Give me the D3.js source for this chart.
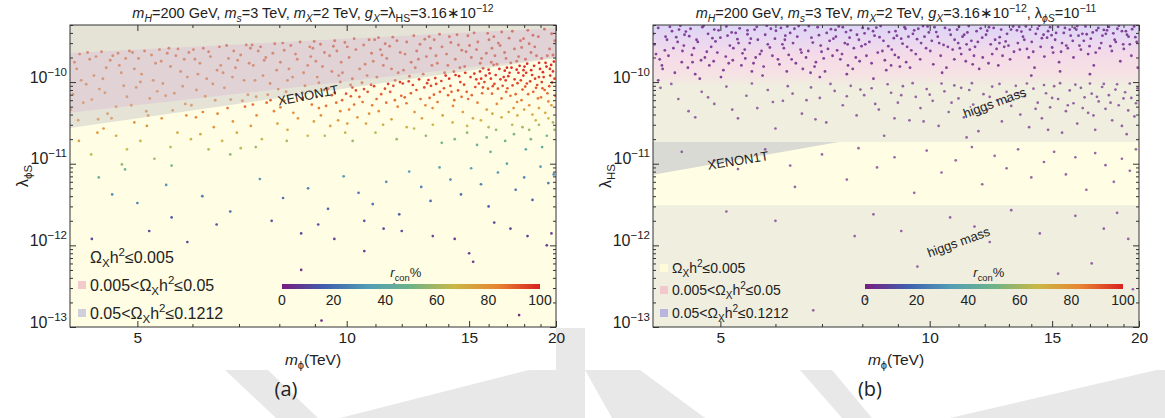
<!DOCTYPE html>
<html>
<head>
<meta charset="utf-8">
<script src="https://cdn.jsdelivr.net/npm/d3@7"></script>
<style>
  body { margin: 0; background: #fff; }
  svg { display: block; font-family: "Liberation Sans", Arial, sans-serif; }
</style>
</head>
<body>
<svg id="fig" width="1165" height="418"></svg>
<script>
// ---------- panel (a): [m_phi (TeV), lambda_phiS, r_con %] ----------
// points inside the XENON1T band (upper pink band)
const bandA = [
  [4.27,1.9e-10,90],[4.04,7.1e-11,86],[4.39,3.5e-11,83],[4.13,2.2e-10,91],[4.33,1.2e-10,88],[4.01,4.6e-11,84],[4.22,9.4e-11,87],[4.36,2.05e-10,90],[4.09,1.45e-10,89],[4.18,5.6e-11,85],[4.41,8.2e-11,86],[4.06,1.75e-10,90],[4.3,6.1e-11,85],[4.15,1.05e-10,87],[4.24,2.3e-10,92],[4.11,3.4e-11,83],
  [4.61,2.1e-10,91],[4.46,1.1e-10,88],[4.83,6.6e-11,86],[4.53,4.1e-11,84],[4.71,1.6e-10,90],[4.44,2.35e-10,92],[4.78,9.0e-11,87],[4.57,1.85e-10,90],[4.87,2.4e-10,92],[4.66,5.0e-11,85],[4.49,7.4e-11,86],[4.74,1.3e-10,88],[4.59,3.6e-11,83],[4.81,1.95e-10,91],[4.51,1.5e-10,89],[4.69,2.25e-10,91],
  [5.07,1.25e-10,88],[4.92,2.3e-10,92],[5.31,1.7e-10,90],[5.15,4.4e-11,84],[4.98,8.6e-11,87],[5.38,2.5e-10,92],[5.21,6.3e-11,86],[5.02,1.95e-10,91],[5.27,1.05e-10,88],[4.9,5.2e-11,85],[5.12,2.4e-10,92],[5.34,7.7e-11,86],[4.95,1.45e-10,89],[5.24,2.15e-10,91],[5.18,3.9e-11,83],[5.05,1.0e-10,88],
  [5.68,2.1e-10,91],[5.44,9.6e-11,88],[5.86,5.4e-11,85],[5.55,2.6e-10,93],[5.77,1.35e-10,89],[5.49,6.8e-11,86],[5.93,2.3e-10,92],[5.62,4.5e-11,84],[5.41,1.8e-10,90],[5.81,8.9e-11,87],[5.58,1.55e-10,90],[5.72,2.55e-10,93],[5.9,1.15e-10,88],[5.52,2.25e-10,92],[5.65,7.3e-11,86],[5.84,1.9e-10,91],
  [6.29,1.1e-10,89],[6.02,2.5e-10,93],[6.47,6.0e-11,86],[6.15,1.7e-10,90],[6.56,2.7e-10,93],[6.08,8.0e-11,87],[6.37,2.05e-10,91],[5.98,5.2e-11,85],[6.22,2.6e-10,93],[6.51,1.4e-10,90],[6.11,1.25e-10,89],[6.42,9.5e-11,88],[6.26,6.7e-11,86],[6.33,2.35e-10,92],[6.05,1.9e-10,91],[6.59,1.6e-10,90],
  [6.88,2.4e-10,93],[6.64,1.3e-10,90],[7.21,7.0e-11,87],[6.97,1.85e-10,91],[6.72,2.8e-10,94],[7.12,1.05e-10,89],[6.81,6.1e-11,86],[7.27,2.6e-10,93],[6.67,8.5e-11,88],[7.04,2.15e-10,92],[6.92,1.5e-10,90],[7.17,2.85e-10,94],[6.76,1.95e-10,91],[7.08,5.9e-11,86],[6.85,1.15e-10,89],[7.24,1.7e-10,91],
  [7.52,2.7e-10,94],[7.34,1.6e-10,91],[7.97,8.2e-11,88],[7.65,2.0e-10,92],[7.41,6.6e-11,87],[7.88,2.95e-10,94],[7.58,1.2e-10,90],[8.03,1.75e-10,92],[7.46,2.4e-10,93],[7.76,9.6e-11,89],[7.31,2.85e-10,94],[7.93,1.4e-10,91],[7.7,7.0e-11,87],[7.38,1.05e-10,89],[7.83,2.25e-10,93],[7.61,1.85e-10,92],
  [8.44,2.2e-10,93],[8.09,3.0e-10,95],[8.71,9.0e-11,90],[8.26,1.45e-10,91],[8.85,2.7e-10,94],[8.18,7.6e-11,88],[8.57,3.1e-10,95],[8.36,1.15e-10,90],[8.79,1.6e-10,92],[8.13,2.45e-10,93],[8.63,7.4e-11,88],[8.49,1.9e-10,92],[8.22,1.05e-10,89],[8.88,2.05e-10,93],[8.31,2.8e-10,94],[8.67,1.3e-10,91],
  [9.23,1.55e-10,92],[8.94,2.6e-10,94],[9.61,3.2e-10,95],[9.12,9.8e-11,90],[9.45,2.1e-10,93],[9.74,1.2e-10,91],[9.03,1.8e-10,92],[9.36,8.4e-11,90],[9.68,2.4e-10,94],[8.98,3.15e-10,95],[9.52,1.35e-10,92],[9.17,2.9e-10,95],[9.79,1.0e-10,91],[9.29,2.3e-10,94],[9.07,1.15e-10,91],[9.57,2.75e-10,95],
  [10.31,2.5e-10,95],[9.86,1.3e-10,92],[10.77,3.3e-10,96],[10.08,2.0e-10,94],[10.52,9.8e-11,92],[9.94,3.05e-10,95],[10.63,1.65e-10,93],[10.19,1.1e-10,92],[10.86,2.25e-10,95],[10.02,2.7e-10,95],[10.44,1.45e-10,93],[9.82,1.75e-10,93],[10.7,1.2e-10,92],[10.25,3.4e-10,96],[10.58,2.85e-10,95],[10.13,9.2e-11,91],
  [11.42,1.95e-10,95],[10.97,3.3e-10,96],[11.86,1.3e-10,94],[11.18,2.5e-10,95],[11.65,3.55e-10,96],[11.05,1.15e-10,93],[11.53,2.75e-10,96],[11.29,1.6e-10,94],[11.94,2.3e-10,95],[11.11,3.5e-10,96],[11.74,1.05e-10,93],[11.36,2.95e-10,96],[10.92,1.8e-10,94],[11.6,1.45e-10,94],[11.24,2.15e-10,95],[11.81,3.2e-10,96],
  [12.61,2.4e-10,96],[12.07,1.4e-10,94],[13.14,3.6e-10,97],[12.38,1.75e-10,95],[12.88,1.25e-10,94],[12.2,3.1e-10,96],[13.02,2.05e-10,96],[12.49,3.7e-10,97],[13.26,1.6e-10,95],[12.13,2.2e-10,95],[12.75,2.9e-10,96],[12.31,1.18e-10,94],[12.95,3.35e-10,97],[12.55,1.5e-10,95],[13.2,2.6e-10,96],[12.68,1.9e-10,95],
  [13.92,2.2e-10,96],[13.36,3.3e-10,97],[14.55,1.5e-10,96],[13.71,2.7e-10,97],[14.26,1.35e-10,95],[13.5,1.7e-10,95],[14.41,3.8e-10,97],[13.83,1.3e-10,95],[14.64,2.45e-10,97],[13.44,2.1e-10,96],[14.12,3.05e-10,97],[13.6,3.85e-10,97],[14.33,1.9e-10,96],[13.98,1.6e-10,96],[14.48,2.85e-10,97],[14.05,3.6e-10,97],
  [15.37,2.5e-10,97],[14.78,1.55e-10,96],[16.02,3.3e-10,98],[15.11,2.0e-10,96],[15.71,1.48e-10,96],[14.94,3.7e-10,98],[15.88,2.25e-10,97],[15.25,4.0e-10,98],[16.14,1.75e-10,97],[15.02,2.8e-10,97],[15.56,1.7e-10,96],[14.85,2.35e-10,97],[15.95,3.95e-10,98],[15.44,3.1e-10,97],[16.18,2.6e-10,97],[15.63,1.95e-10,96],
  [16.87,2.3e-10,97],[16.28,3.6e-10,98],[17.56,1.8e-10,97],[16.62,2.8e-10,97],[17.31,4.2e-10,98],[16.45,1.65e-10,96],[17.78,3.2e-10,98],[16.95,1.95e-10,97],[17.43,2.55e-10,97],[16.34,2.1e-10,97],[17.12,3.45e-10,98],[17.67,2.05e-10,97],[16.71,4.1e-10,98],[17.22,1.72e-10,97],[16.52,3.0e-10,98],[17.85,2.65e-10,98],
  [18.64,2.7e-10,98],[17.96,3.4e-10,98],[19.43,2.1e-10,98],[18.22,4.3e-10,99],[19.07,1.95e-10,98],[18.41,2.3e-10,98],[19.71,3.9e-10,99],[18.08,1.9e-10,98],[18.86,3.6e-10,98],[19.58,2.55e-10,98],[18.3,2.95e-10,98],[19.25,4.45e-10,99],[18.75,2.1e-10,98],[19.92,3.2e-10,99],[18.53,3.75e-10,99],[19.8,2.15e-10,98]
];
// points just below the XENON1T line (orange / red)
const belowA = [
  [4.12,1.9e-11,76],[4.47,2.7e-11,80],[4.83,1.5e-11,66],[4.29,1.3e-11,64],[5.16,2.9e-11,79],[4.66,2.2e-11,74],[5.42,3.6e-11,82],[5.05,1.9e-11,70],
  [5.71,2.4e-11,72],[5.29,1.15e-11,58],[5.88,3.9e-11,83],[4.95,3.2e-11,81],[5.58,1.6e-11,64],[4.38,2.4e-11,78],[5.97,2.0e-11,68],[4.75,9.8e-12,56],
  [6.07,3.7e-11,84],[6.44,2.8e-11,78],[6.21,4.3e-11,86],[6.86,3.3e-11,80],[6.62,1.9e-11,70],[7.14,5.0e-11,88],[6.33,1.5e-11,62],[7.42,3.9e-11,83],
  [6.95,2.4e-11,74],[7.67,5.6e-11,89],[7.28,2.9e-11,78],[6.74,4.8e-11,87],[7.86,4.4e-11,84],[7.55,2.0e-11,68],[8.13,5.9e-11,89],[7.04,1.55e-11,63],
  [8.38,4.2e-11,83],[7.95,3.1e-11,77],[8.64,6.4e-11,90],[8.22,2.6e-11,72],[8.91,5.3e-11,87],[8.51,3.6e-11,80],[7.77,6.0e-11,90],[8.79,2.2e-11,68],
  [6.52,4.1e-11,85],[8.03,4.9e-11,86],[7.33,5.3e-11,88],[8.45,7.0e-11,92],[8.97,3.3e-11,76],[6.16,2.3e-11,73],
  [9.06,6.6e-11,92],[9.34,5.1e-11,87],[9.18,3.9e-11,82],[9.61,7.4e-11,93],[9.47,2.9e-11,76],[9.85,6.0e-11,90],[9.27,8.0e-11,95],[10.08,4.6e-11,84],
  [9.72,3.4e-11,79],[10.31,7.9e-11,94],[9.95,2.4e-11,70],[10.54,5.7e-11,88],[10.19,8.6e-11,95],[10.77,4.1e-11,81],[10.43,6.6e-11,91],[10.95,8.9e-11,95],
  [10.66,3.1e-11,75],[11.21,7.1e-11,91],[10.88,5.2e-11,86],[11.47,9.5e-11,96],[11.12,4.4e-11,82],[11.73,6.0e-11,88],[11.35,8.3e-11,94],[11.93,1.0e-10,97],
  [11.6,3.5e-11,77],[9.52,6.9e-11,93],[9.79,4.4e-11,84],[10.14,6.7e-11,92],[10.36,3.7e-11,80],[10.72,7.6e-11,93],[11.04,6.2e-11,89],[11.28,3.0e-11,72],
  [11.55,7.6e-11,92],[11.84,5.0e-11,85],[9.12,4.8e-11,86],[9.41,8.3e-11,96],[10.25,5.3e-11,87],[10.84,9.3e-11,96],[11.67,9.0e-11,95],[9.98,7.2e-11,93],
  [11.4,5.6e-11,88],[10.59,8.2e-11,94],[9.66,5.6e-11,89],[11.98,6.8e-11,90],[10.02,3.1e-11,76],
  [12.04,9.6e-11,97],[12.37,7.3e-11,92],[12.19,5.5e-11,87],[12.71,1.08e-10,98],[12.52,4.3e-11,82],[12.93,8.6e-11,94],[12.28,1.02e-10,97],[13.16,6.4e-11,89],
  [12.83,3.6e-11,77],[13.41,1.12e-10,98],[13.05,9.7e-11,96],[13.62,7.6e-11,92],[13.29,4.8e-11,83],[13.88,1.2e-10,99],[13.51,5.7e-11,87],[14.1,9.0e-11,94],
  [13.74,3.9e-11,78],[14.34,1.22e-10,99],[13.99,6.9e-11,90],[14.57,1.0e-10,96],[14.22,5.1e-11,84],[14.81,1.3e-10,99],[14.46,7.9e-11,92],[15.07,1.15e-10,98],
  [14.69,4.3e-11,79],[15.31,8.7e-11,94],[14.95,6.2e-11,88],[15.55,1.35e-10,99],[15.19,3.6e-11,74],[15.78,1.0e-10,96],[15.42,5.6e-11,85],[16.0,1.42e-10,100],
  [15.66,7.3e-11,90],[15.9,4.6e-11,80],[12.6,8.0e-11,93],[12.12,6.5e-11,90],[13.22,9.0e-11,95],[12.45,9.2e-11,96],[13.68,1.03e-10,97],[13.35,7.0e-11,91],
  [14.04,1.1e-10,98],[14.28,6.0e-11,87],[14.75,9.3e-11,95],[14.51,1.18e-10,99],[15.13,6.9e-11,89],[15.26,1.27e-10,99],[15.49,9.6e-11,95],[15.85,1.2e-10,98],
  [15.61,1.1e-10,97],[15.97,8.3e-11,92],[13.8,8.4e-11,93],[14.15,7.6e-11,91],[12.98,5.2e-11,85],[14.88,7.6e-11,91],[15.36,1.08e-10,97],[13.11,1.06e-10,98],
  [12.77,6.2e-11,88],[14.63,6.6e-11,89],[15.7,8.6e-11,93],[13.45,9.5e-11,96],
  [16.05,1.28e-10,99],[16.31,9.5e-11,95],[16.18,7.2e-11,90],[16.58,1.45e-10,100],[16.44,5.4e-11,84],[16.82,1.15e-10,98],[16.27,1.62e-10,100],[17.03,8.4e-11,92],
  [16.7,6.3e-11,87],[17.26,1.5e-10,100],[16.93,1.05e-10,97],[17.5,7.1e-11,89],[17.15,1.3e-10,99],[17.73,1.58e-10,100],[17.38,4.8e-11,81],[17.95,1.2e-10,98],
  [17.61,9.7e-11,95],[18.18,1.68e-10,100],[17.84,6.0e-11,86],[18.42,1.4e-10,99],[18.06,8.8e-11,93],[18.66,1.1e-10,97],[18.3,5.2e-11,82],[18.91,1.72e-10,100],
  [18.55,7.6e-11,90],[19.15,1.32e-10,99],[18.79,9.2e-11,94],[19.38,1.55e-10,100],[19.03,6.5e-11,87],[19.62,1.2e-10,98],[19.26,8.0e-11,91],[19.86,1.78e-10,100],
  [19.5,5.8e-11,84],[19.74,9.9e-11,95],[19.95,6.8e-11,88],[16.12,1.1e-10,97],[16.5,8.3e-11,93],[16.88,1.38e-10,99],[17.2,6.8e-11,88],[17.44,1.08e-10,97],
  [17.66,1.3e-10,99],[17.9,8.1e-11,92],[18.12,1.3e-10,99],[18.36,1.02e-10,96],[18.6,1.58e-10,100],[18.84,6.3e-11,86],[19.08,1.0e-10,96],[19.32,1.72e-10,100],
  [19.56,8.9e-11,93],[19.8,1.35e-10,99],[16.38,1.22e-10,98],[16.76,9.0e-11,94],[17.08,1.18e-10,98],[17.32,9.1e-11,94],[17.56,1.42e-10,100],[17.8,1.05e-10,96],
  [18.02,1.55e-10,100],[18.24,7.1e-11,89],[18.48,1.22e-10,98],[18.72,8.5e-11,92],[18.97,1.45e-10,99],[19.2,1.15e-10,97],[19.44,7.3e-11,89],[19.68,1.62e-10,100],
  [19.9,1.1e-10,96],[16.64,1.08e-10,97],[17.0,1.5e-10,100],[17.96,1.4e-10,99],[18.9,1.15e-10,97],[19.6,1.45e-10,99],[16.22,8.9e-11,94],[18.16,9.6e-11,95],
  [19.12,8.4e-11,92],[17.58,5.7e-11,85],[16.96,7.6e-11,90]
];
// yellow / green / teal points
const midA = [
  [14.2,3.2e-11,70],[14.9,2.9e-11,66],[15.6,3.4e-11,70],[16.2,4.1e-11,74],[16.7,3.7e-11,71],[17.1,4.3e-11,75],[17.6,3.9e-11,72],[18.0,4.6e-11,76],
  [18.5,4.0e-11,72],[18.9,4.8e-11,77],[19.3,4.2e-11,73],[19.7,5.2e-11,78],[16.0,2.8e-11,62],[17.3,3.0e-11,63],[18.7,3.4e-11,66],[19.5,3.6e-11,67],
  [13.3,3.0e-11,70],[12.2,2.8e-11,70],[19.9,2.6e-11,58],[18.3,2.6e-11,58],
  [9.3,2.2e-11,62],[10.2,1.9e-11,58],[11.0,2.4e-11,64],[11.8,2.0e-11,58],[12.5,2.7e-11,64],[13.0,2.2e-11,56],[13.7,1.8e-11,50],
  [14.3,2.0e-11,52],[14.9,2.4e-11,55],[15.4,1.7e-11,46],[15.9,2.1e-11,52],[16.4,2.6e-11,56],[16.9,1.9e-11,48],[17.4,2.3e-11,52],
  [17.9,2.8e-11,58],[18.4,2.0e-11,48],[18.9,3.0e-11,58],[19.4,2.2e-11,50],[19.8,3.2e-11,60],[16.1,1.4e-11,42],[18.1,1.5e-11,40],
  [19.1,1.6e-11,40],[8.2,1.9e-11,60],[7.4,1.6e-11,58],[6.8,1.3e-11,55],[5.6,9.5e-12,50],[4.8,8.5e-12,48],[4.4,6.8e-12,45]
];
// blue points
const blueA = [
  [4.6,4.2e-12,28],[5.0,3.3e-12,25],[5.5,5.5e-12,30],[6.2,4.0e-12,22],[6.8,2.6e-12,18],[7.5,6.5e-12,30],[8.1,3.8e-12,20],
  [8.8,5.0e-12,26],[9.4,2.8e-12,16],[9.9,7.0e-12,32],[10.4,4.4e-12,22],[10.9,3.2e-12,18],[11.4,6.0e-12,28],[11.9,2.4e-12,14],
  [12.3,8.0e-12,34],[12.8,5.2e-12,24],[13.2,3.5e-12,18],[13.6,9.0e-12,36],[14.1,6.4e-12,28],[14.6,4.2e-12,20],[15.1,8.8e-12,34],
  [15.6,5.6e-12,24],[16.0,3.0e-12,14],[16.5,7.8e-12,30],[17.0,1e-11,36],[17.5,4.8e-12,20],[18.0,6.8e-12,26],[18.5,3.6e-12,16],
  [19.0,9.2e-12,32],[19.5,5.8e-12,22],[19.85,7.4e-12,26]
];
// sparse points near the bottom
const lowA = [
  [5.2,1.5e-12,10],[5.9,1.1e-12,8],[6.5,1.8e-12,12],[7.8,2.0e-12,12],[8.6,1.4e-12,9],[9.1,1.8e-12,10],[9.6,1.2e-12,7],
  [10.6,2.0e-12,12],[10.6,8.5e-13,6],[11.3,1.6e-12,9],[12.0,1.5e-12,8],[13.3,1.3e-12,7],[14.3,1.2e-12,6],[15.0,8.0e-13,5],
  [15.2,6.3e-13,4],[16.3,1.9e-12,10],[17.2,1.6e-12,8],[18.2,1.3e-12,6],[19.4,1.0e-12,5],[19.7,1.4e-12,7],[8.6,5.0e-13,3],
  [9.2,1.2e-13,2],[11.7,3.3e-13,3],[17.7,1.4e-13,2],[4.3,1.2e-12,8],[5.6,2.2e-12,14]
];

// ---------- panel (b): [m_phi (TeV), lambda_HS] ----------
const bandB = [
  [4.02,2.9e-10],[4.07,4.6e-10],[4.12,1.6e-10],[4.17,3.6e-10],[4.21,2.1e-10],[4.26,4.2e-10],[4.3,1.3e-10],[4.34,3.1e-10],[4.38,4.9e-10],[4.41,2.4e-10],[4.09,1.9e-10],
  [4.44,3.8e-10],[4.49,1.5e-10],[4.53,4.5e-10],[4.58,2.6e-10],[4.62,3.3e-10],[4.67,1.1e-10],[4.71,4.7e-10],[4.75,2.0e-10],[4.8,3.9e-10],[4.85,2.7e-10],[4.56,1.75e-10],
  [4.9,4.4e-10],[4.95,2.3e-10],[5.0,3.5e-10],[5.05,1.4e-10],[5.1,4.8e-10],[5.16,2.8e-10],[5.21,1.85e-10],[5.26,4.0e-10],[5.31,3.0e-10],[5.36,1.6e-10],[5.12,3.7e-10],
  [5.42,2.5e-10],[5.47,4.3e-10],[5.53,3.4e-10],[5.58,1.7e-10],[5.64,4.75e-10],[5.7,2.2e-10],[5.75,1.2e-10],[5.8,3.8e-10],[5.85,2.9e-10],[5.91,4.5e-10],[5.62,2.0e-10],
  [5.99,3.4e-10],[6.05,1.9e-10],[6.11,4.6e-10],[6.17,2.6e-10],[6.23,1.35e-10],[6.3,4.0e-10],[6.36,3.0e-10],[6.42,1.7e-10],[6.48,4.85e-10],[6.54,2.3e-10],[6.2,3.7e-10],
  [6.62,4.3e-10],[6.69,2.4e-10],[6.76,3.5e-10],[6.83,1.55e-10],[6.9,4.7e-10],[6.97,2.8e-10],[7.04,1.95e-10],[7.11,4.0e-10],[7.18,3.2e-10],[7.25,2.1e-10],[6.95,1.15e-10],
  [7.33,3.6e-10],[7.4,4.8e-10],[7.48,2.2e-10],[7.55,3.0e-10],[7.63,1.6e-10],[7.7,4.3e-10],[7.78,2.6e-10],[7.86,3.8e-10],[7.93,1.8e-10],[8.01,4.6e-10],[7.6,1.25e-10],
  [8.08,2.9e-10],[8.16,4.5e-10],[8.25,1.7e-10],[8.33,3.7e-10],[8.42,2.3e-10],[8.5,4.85e-10],[8.58,3.2e-10],[8.66,1.4e-10],[8.74,4.1e-10],[8.82,2.5e-10],[8.3,1.1e-10],
  [8.93,4.2e-10],[9.02,2.0e-10],[9.1,3.4e-10],[9.2,4.7e-10],[9.28,2.7e-10],[9.37,1.5e-10],[9.46,3.9e-10],[9.55,2.2e-10],[9.63,4.5e-10],[9.72,3.0e-10],[9.25,1.75e-10],
  [9.83,3.6e-10],[9.93,4.8e-10],[10.02,2.4e-10],[10.12,1.65e-10],[10.22,4.1e-10],[10.32,3.0e-10],[10.42,1.3e-10],[10.52,4.6e-10],[10.62,2.7e-10],[10.72,3.8e-10],[10.85,1.9e-10],
  [10.95,4.4e-10],[11.05,2.6e-10],[11.15,3.6e-10],[11.27,1.8e-10],[11.38,4.85e-10],[11.48,3.2e-10],[11.58,2.1e-10],[11.68,4.2e-10],[11.78,1.45e-10],[11.9,3.5e-10],[11.3,2.9e-10],
  [12.05,3.8e-10],[12.17,4.7e-10],[12.3,2.2e-10],[12.42,3.3e-10],[12.55,1.6e-10],[12.67,4.4e-10],[12.8,2.7e-10],[12.92,3.9e-10],[13.05,1.9e-10],[13.18,4.8e-10],[12.6,3.0e-10],
  [13.35,4.3e-10],[13.48,2.5e-10],[13.62,3.6e-10],[13.75,4.8e-10],[13.88,2.0e-10],[14.02,3.1e-10],[14.15,1.5e-10],[14.3,4.5e-10],[14.44,2.7e-10],[14.58,3.8e-10],[14.0,1.2e-10],
  [14.75,3.5e-10],[14.9,4.7e-10],[15.05,2.3e-10],[15.2,4.0e-10],[15.35,1.75e-10],[15.5,3.0e-10],[15.65,4.6e-10],[15.8,2.6e-10],[15.95,3.7e-10],[16.1,2.0e-10],[15.4,1.35e-10],
  [16.25,4.4e-10],[16.42,2.8e-10],[16.58,3.9e-10],[16.75,4.8e-10],[16.9,2.2e-10],[17.05,3.4e-10],[17.22,1.6e-10],[17.38,4.3e-10],[17.55,2.6e-10],[17.72,3.7e-10],[17.0,1.25e-10],
  [17.92,3.9e-10],[18.1,4.75e-10],[18.28,2.4e-10],[18.45,3.3e-10],[18.62,4.5e-10],[18.8,1.8e-10],[18.98,2.9e-10],[19.15,4.2e-10],[19.32,3.6e-10],[19.5,2.1e-10],[19.68,4.8e-10],[19.85,3.1e-10],[19.92,1.5e-10]
];
const bandB2 = [
  [4.19,3.3e-10],[4.04,2.2e-10],[4.36,4.4e-10],[4.13,1.45e-10],[4.28,2.6e-10],[4.0,3.9e-10],[4.4,1.75e-10],[4.23,4.75e-10],[4.07,1.05e-10],[4.32,3.55e-10],[4.16,2.45e-10],
  [4.64,3.1e-10],[4.46,4.15e-10],[4.82,1.6e-10],[4.55,2.15e-10],[4.73,4.9e-10],[4.43,2.8e-10],[4.87,3.45e-10],[4.6,1.25e-10],[4.78,2.35e-10],[4.51,3.65e-10],[4.69,1.85e-10],
  [5.09,2.05e-10],[4.92,3.15e-10],[5.33,4.55e-10],[5.01,1.15e-10],[5.22,2.6e-10],[4.97,4.3e-10],[5.38,2.25e-10],[5.14,1.7e-10],[5.29,3.35e-10],[4.89,1.8e-10],[5.19,4.05e-10],
  [5.51,3.0e-10],[5.43,1.95e-10],[5.89,2.65e-10],[5.6,4.4e-10],[5.77,1.55e-10],[5.47,3.85e-10],[5.94,2.1e-10],[5.66,3.3e-10],[5.83,4.9e-10],[5.55,1.35e-10],[5.73,2.4e-10],
  [6.27,2.15e-10],[6.01,4.25e-10],[6.45,3.6e-10],[6.14,2.9e-10],[6.57,1.45e-10],[6.08,1.65e-10],[6.39,4.5e-10],[6.19,3.3e-10],[6.52,2.5e-10],[6.33,1.9e-10],[6.24,4.8e-10],
  [6.93,3.75e-10],[6.64,2.0e-10],[7.21,4.45e-10],[6.79,3.05e-10],[7.07,1.35e-10],[6.7,4.85e-10],[7.14,2.55e-10],[6.86,1.75e-10],[7.27,3.4e-10],[6.99,2.35e-10],[6.74,1.3e-10],
  [7.58,4.1e-10],[7.36,2.45e-10],[7.91,3.3e-10],[7.44,1.9e-10],[7.83,2.0e-10],[7.5,4.7e-10],[7.98,2.75e-10],[7.67,3.5e-10],[7.32,4.35e-10],[7.75,1.45e-10],[7.62,2.9e-10],
  [8.47,3.55e-10],[8.11,2.1e-10],[8.72,2.75e-10],[8.29,4.2e-10],[8.88,3.45e-10],[8.19,3.1e-10],[8.62,1.85e-10],[8.38,4.65e-10],[8.8,1.6e-10],[8.06,3.95e-10],[8.55,2.4e-10],
  [9.41,2.45e-10],[8.97,3.7e-10],[9.69,1.9e-10],[9.14,2.95e-10],[9.5,4.3e-10],[9.06,1.55e-10],[9.78,4.85e-10],[9.32,3.6e-10],[9.59,3.35e-10],[9.23,4.5e-10],[8.91,2.15e-10],
  [10.37,2.1e-10],[9.88,2.6e-10],[10.68,4.35e-10],[10.07,3.2e-10],[10.57,1.5e-10],[9.97,4.05e-10],[10.79,2.5e-10],[10.27,3.6e-10],[10.47,2.85e-10],[10.16,4.7e-10],[10.86,3.3e-10],
  [11.33,4.05e-10],[10.99,3.0e-10],[11.62,2.7e-10],[11.1,2.2e-10],[11.84,4.55e-10],[11.21,3.8e-10],[11.53,1.65e-10],[11.42,2.5e-10],[11.73,3.1e-10],[11.92,2.0e-10],[11.02,4.75e-10],
  [12.48,2.55e-10],[12.1,4.25e-10],[12.86,3.15e-10],[12.24,2.9e-10],[13.09,4.4e-10],[12.36,4.6e-10],[12.73,2.1e-10],[12.61,3.55e-10],[13.22,2.35e-10],[12.98,2.8e-10],[12.15,1.7e-10],
  [13.55,4.15e-10],[13.39,3.0e-10],[14.09,2.35e-10],[13.68,3.3e-10],[14.37,4.9e-10],[13.8,2.55e-10],[14.5,3.45e-10],[13.94,4.4e-10],[14.21,3.9e-10],[14.62,2.05e-10],[13.45,4.75e-10],
  [15.15,3.3e-10],[14.8,4.2e-10],[15.72,2.8e-10],[15.0,2.65e-10],[15.9,4.4e-10],[15.3,4.75e-10],[16.06,3.2e-10],[15.45,2.35e-10],[15.59,4.0e-10],[14.97,3.75e-10],[16.16,4.6e-10],
  [16.66,3.2e-10],[16.3,4.85e-10],[17.48,4.6e-10],[16.5,2.5e-10],[17.65,3.0e-10],[16.82,3.85e-10],[17.16,4.05e-10],[16.98,2.75e-10],[17.33,2.3e-10],[17.8,4.35e-10],[16.37,3.7e-10],
  [18.52,3.1e-10],[17.99,4.3e-10],[19.22,3.8e-10],[18.19,2.75e-10],[19.55,4.45e-10],[18.71,4.9e-10],[19.02,2.55e-10],[18.37,3.95e-10],[19.4,2.9e-10],[19.76,3.55e-10],[18.9,4.2e-10]
];
const midB = [
  [4.1,8.5e-11],[4.35,6.2e-11],[4.5,4.4e-11],[4.7,7.6e-11],[4.9,5.4e-11],[5.1,8.8e-11],[5.3,3.6e-11],[5.45,6.8e-11],[5.65,4.8e-11],[5.85,8.0e-11],
  [6.0,2.7e-11],[6.15,5.9e-11],[6.35,7.2e-11],[6.55,4.1e-11],[6.75,8.6e-11],[6.95,6.4e-11],[7.1,3.2e-11],[7.3,7.8e-11],[7.5,5.2e-11],[7.7,9.0e-11],
  [7.85,3.9e-11],[8.05,6.9e-11],[8.25,8.4e-11],[8.45,4.6e-11],[8.6,2.2e-11],[8.8,7.4e-11],[9.0,5.6e-11],[9.15,8.9e-11],[9.35,3.4e-11],[9.55,6.6e-11],
  [9.7,4.8e-11],[9.9,8.2e-11],[10.1,5.9e-11],[10.3,2.9e-11],[10.5,7.7e-11],[10.65,4.3e-11],[10.85,9.1e-11],[11.0,6.3e-11],[11.2,3.7e-11],[11.4,8.0e-11],
  [11.55,5.3e-11],[11.75,2.5e-11],[11.95,7.1e-11],[12.1,4.6e-11],[12.3,8.8e-11],[12.5,6.0e-11],[12.7,3.3e-11],[12.9,7.6e-11],[13.1,5.1e-11],[13.3,9.0e-11],
  [13.5,4.0e-11],[13.7,6.7e-11],[13.9,2.8e-11],[14.1,8.3e-11],[14.3,5.6e-11],[14.5,3.6e-11],[14.7,7.3e-11],[14.9,4.9e-11],[15.1,8.9e-11],[15.3,6.2e-11],
  [15.5,2.4e-11],[15.7,4.4e-11],[15.9,7.9e-11],[16.1,5.5e-11],[16.3,3.1e-11],[16.5,8.5e-11],[16.7,6.5e-11],[16.9,4.2e-11],[17.1,7.2e-11],[17.3,2.6e-11],
  [17.5,5.8e-11],[17.7,8.7e-11],[17.9,4.7e-11],[18.1,6.9e-11],[18.3,3.4e-11],[18.5,8.1e-11],[18.7,5.2e-11],[18.9,2.9e-11],[19.1,7.5e-11],[19.3,4.5e-11],
  [19.5,6.4e-11],[19.7,3.8e-11],[19.9,8.4e-11],
  [4.25,9.5e-11],[4.6,3.7e-11],[4.8,6.5e-11],[5.2,4.6e-11],[5.55,9.6e-11],[5.95,5.7e-11],[6.25,8.9e-11],[6.65,6.0e-11],[6.85,3.5e-11],[7.2,9.5e-11],
  [7.6,6.7e-11],[7.95,8.1e-11],[8.35,5.4e-11],[8.7,9.4e-11],[9.1,6.9e-11],[9.45,9.7e-11],[9.8,3.3e-11],[10.0,7.0e-11],[10.4,9.6e-11],[10.75,5.6e-11],
  [11.1,8.5e-11],[11.5,9.7e-11],[11.85,4.1e-11],[12.2,6.6e-11],[12.6,9.5e-11],[12.95,5.8e-11],[13.4,7.3e-11],[13.8,9.6e-11],[14.2,4.7e-11],[14.6,9.2e-11],
  [15.0,6.4e-11],[15.4,9.7e-11],[15.8,5.2e-11],[16.2,9.3e-11],[16.6,4.8e-11],[17.0,9.6e-11],[17.4,6.6e-11],[17.8,9.5e-11],[18.2,5.6e-11],[18.6,9.4e-11],
  [19.0,6.3e-11],[19.4,9.6e-11],[19.8,5.5e-11],[11.3,2.1e-11],[14.8,2.6e-11],[17.2,3.9e-11],[19.2,2.3e-11],[8.9,3.6e-11]
];
const yellowB = [
  [4.4,1.4e-11],[4.9,1.1e-11],[5.3,8.6e-12],[5.8,1.5e-11],[6.3,9.5e-12],[6.4,5.2e-12],[7.0,1.3e-11],[7.6,6.4e-12],[7.9,1.55e-11],[8.4,9.0e-12],
  [8.9,1.2e-11],[9.5,4.4e-12],[9.9,1.45e-11],[10.4,7.8e-12],[10.9,1.1e-11],[11.5,1.6e-11],[11.9,5.6e-12],[12.4,1.25e-11],[12.9,8.8e-12],[13.4,1.5e-11],
  [14.0,6.8e-12],[14.6,1.05e-11],[15.1,1.4e-11],[15.7,7.4e-12],[16.2,1.2e-11],[16.8,4.8e-12],[17.3,1.35e-11],[17.9,9.6e-12],[18.4,6.0e-12],[18.9,1.15e-11],
  [19.4,8.2e-12],[19.8,1.5e-11]
];
const lowB = [
  [5.1,2.6e-12],[6.0,2.0e-12],[7.8,1.3e-12],[8.3,2.4e-12],[9.1,1.5e-12],[9.6,5.5e-13],[10.7,2.2e-12],[11.6,1.7e-12],[12.2,1.1e-12],[13.1,2.7e-12],
  [14.4,1.4e-12],[15.3,4.5e-13],[16.2,2.3e-12],[17.1,6.0e-13],[17.8,1.6e-12],[18.6,2.5e-12],[19.3,1.2e-12],[19.6,2.9e-13],[6.8,1.6e-13],[8.1,2.2e-13]
];
const rconB = 3; // all panel (b) points sit near r_con ~ 0-5 %

// ---------- regions, axes, legends ----------
const xenonLineA = [[4, 2.74e-11], [20, 1.97e-10]];
const topLineA = [[4, 2.27e-10], [20, 4.6e-10]];
const pinkLowA = [[4, 4.2e-11], [20, 2.0e-10]];
const pinkTopB = 9e-11;
const higgsUpB = [1.85e-11, 5e-10];
const higgsLowB = [1e-13, 3.1e-12];
const xenonB = [[4, 1.85e-11], [7.4, 1.85e-11], [4, 7.3e-12]];

const xDomain = [4, 20];
const yDomain = [1e-13, 5e-10];
const xTicks = [5, 10, 15, 20];
const xMinor = [6, 7, 8, 9, 11, 12, 13, 14, 16, 17, 18, 19];
const yExps = [-13, -12, -11, -10];
const rconTicks = [0, 20, 40, 60, 80, 100];
const rainbow = ["#781C81", "#3F60AE", "#539EB6", "#6DB388", "#CAB843", "#E78532", "#D92120"];

const W = 486, H = 302, TOP = 25;
const svg = d3.select("#fig");
const defs = svg.append("defs");

const color = d3.scaleLinear()
  .domain(rainbow.map((c, i) => (i * 100) / (rainbow.length - 1)))
  .range(rainbow);

// text with sub/superscripts: parts = [[text, "i sub"], ...]
function rich(t, parts, size) {
  let cur = 0;
  parts.forEach(([s, k = ""]) => {
    const f = k.split(" ");
    const sub = f.includes("sub"), sup = f.includes("sup");
    const off = sub ? size * 0.28 : sup ? -size * 0.42 : 0;
    t.append("tspan")
      .attr("font-size", sub || sup ? size * 0.72 : size)
      .attr("font-style", f.includes("i") ? "italic" : null)
      .attr("dy", off - cur)
      .text(s);
    cur = off;
  });
  return t;
}

// page watermark behind the figure
const wm = svg.append("g").attr("fill", "#e8e8e8");
[
  [[225, 370], [268, 370], [318, 418], [276, 418]],
  [[340, 418], [560, 362], [585, 362], [585, 418]],
  [[556, 328], [585, 328], [585, 370], [556, 370]],
  [[585, 370], [640, 370], [705, 418], [612, 418]],
  [[800, 370], [832, 370], [872, 418], [842, 418]],
  [[950, 418], [1165, 368], [1165, 418]]
].forEach((p) => wm.append("polygon").attr("points", p.join(" ")));
svg.append("rect").attr("x", 0).attr("y", 0).attr("width", 556).attr("height", 370).attr("fill", "#fff");
svg.append("rect").attr("x", 585).attr("y", 0).attr("width", 580).attr("height", 370).attr("fill", "#fff");

function makePanel(id, left) {
  const x = d3.scaleLog().domain(xDomain).range([left, left + W]);
  const y = d3.scaleLog().domain(yDomain).range([TOP + H, TOP]);
  defs.append("clipPath").attr("id", "clip" + id)
    .append("rect").attr("x", left).attr("y", TOP).attr("width", W).attr("height", H);
  const g = svg.append("g");
  const plot = g.append("g").attr("clip-path", `url(#clip${id})`);
  plot.append("rect").attr("x", left).attr("y", TOP).attr("width", W).attr("height", H).attr("fill", "#fffde3");
  return { x, y, g, plot, left };
}

function drawDots(p, data, r, fillFn, opacity) {
  p.plot.append("g").selectAll("circle").data(data).join("circle")
    .attr("cx", (d) => p.x(d[0]))
    .attr("cy", (d) => p.y(d[1]))
    .attr("r", r)
    .attr("fill", fillFn)
    .attr("fill-opacity", opacity);
}

function drawAxes(p, title, yLabel) {
  const { x, y, g, left } = p;
  const bottom = TOP + H, right = left + W;
  const clean = (s) => s.call((a) => a.select(".domain").remove())
    .attr("font-family", null).attr("font-size", null);
  const major = (ax) => ax.tickSizeInner(-6).tickSizeOuter(0);
  const minor = (ax) => ax.tickSizeInner(-3).tickSizeOuter(0).tickFormat("");
  const yMinor = y.ticks().filter((v) => !yExps.includes(Math.round(Math.log10(v) * 1000) / 1000));

  g.append("rect").attr("x", left).attr("y", TOP).attr("width", W).attr("height", H)
    .attr("fill", "none").attr("stroke", "#333").attr("stroke-width", 1);

  const xb = g.append("g").attr("transform", `translate(0,${bottom})`)
    .call(major(d3.axisBottom(x)).tickValues(xTicks).tickPadding(5).tickFormat(d3.format("d"))).call(clean);
  xb.selectAll("text").attr("font-size", 15.5).attr("fill", "#222");
  g.append("g").attr("transform", `translate(0,${bottom})`).call(minor(d3.axisBottom(x)).tickValues(xMinor)).call(clean);
  g.append("g").attr("transform", `translate(0,${TOP})`).call(major(d3.axisTop(x)).tickValues(xTicks).tickFormat("")).call(clean);
  g.append("g").attr("transform", `translate(0,${TOP})`).call(minor(d3.axisTop(x)).tickValues(xMinor)).call(clean);

  const yl = g.append("g").attr("transform", `translate(${left},0)`)
    .call(major(d3.axisLeft(y)).tickValues(yExps.map((e) => Math.pow(10, e))).tickPadding(3).tickFormat(""))
    .call(clean);
  yl.selectAll(".tick text").each(function (d) {
    const t = d3.select(this).attr("fill", "#222").attr("dy", "0.35em");
    const e = Math.round(Math.log10(d));
    rich(t, [["10"], ["\u2212" + Math.abs(e), "sup"]], 16);
  });
  g.append("g").attr("transform", `translate(${left},0)`).call(minor(d3.axisLeft(y)).tickValues(yMinor)).call(clean);
  g.append("g").attr("transform", `translate(${right},0)`)
    .call(major(d3.axisRight(y)).tickValues(yExps.map((e) => Math.pow(10, e))).tickFormat("")).call(clean);
  g.append("g").attr("transform", `translate(${right},0)`).call(minor(d3.axisRight(y)).tickValues(yMinor)).call(clean);
  g.selectAll(".tick line").attr("stroke", "#333");

  rich(g.append("text").attr("x", left + W / 2).attr("y", 18).attr("text-anchor", "middle").attr("fill", "#222"), title, 14.5);
  rich(g.append("text").attr("x", left + W / 2).attr("y", 365).attr("text-anchor", "middle").attr("fill", "#222"),
    [["m", "i"], ["\u03d5", "sub"], ["(TeV)"]], 15.5);
  rich(g.append("text").attr("transform", `translate(${left - 42},${TOP + H / 2}) rotate(-90)`)
    .attr("text-anchor", "middle").attr("fill", "#222"), yLabel, 16);
}

function drawLegend(p, swatches, rows, size, dx) {
  const labels = [
    [["\u03a9"], ["X", "sub"], ["h"], ["2", "sup"], ["\u22640.005"]],
    [["0.005<\u03a9"], ["X", "sub"], ["h"], ["2", "sup"], ["\u22640.05"]],
    [["0.05<\u03a9"], ["X", "sub"], ["h"], ["2", "sup"], ["\u22640.1212"]]
  ];
  labels.forEach((lab, i) => {
    p.g.append("rect").attr("x", p.left + dx - 12).attr("y", rows[i] - 4).attr("width", 8).attr("height", 8)
      .attr("fill", swatches[i]);
    rich(p.g.append("text").attr("x", p.left + dx).attr("y", rows[i] + size * 0.35).attr("fill", "#222"), lab, size);
  });
}

function drawColorbar(p, id) {
  const grad = defs.append("linearGradient").attr("id", "cb" + id);
  rainbow.forEach((c, i) => grad.append("stop").attr("offset", i / (rainbow.length - 1)).attr("stop-color", c));
  const cbx = d3.scaleLinear().domain([0, 100]).range([p.left + 212, p.left + 470]);
  p.g.append("rect").attr("x", cbx(0)).attr("y", 284).attr("width", cbx(100) - cbx(0)).attr("height", 5)
    .attr("fill", `url(#cb${id})`);
  p.g.append("g").selectAll("text").data(rconTicks).join("text")
    .attr("x", (d) => cbx(d)).attr("y", 305).attr("text-anchor", "middle")
    .attr("font-size", 14).attr("fill", "#222").text((d) => d);
  rich(p.g.append("text").attr("x", cbx(48)).attr("y", 277).attr("text-anchor", "middle").attr("fill", "#222"),
    [["r", "i"], ["con", "sub"], ["%"]], 13);
}

// ================= panel (a) =================
const pa = makePanel("a", 70);
const xa = pa.x, ya = pa.y;
const pinkA = topLineA.concat(pinkLowA.slice().reverse());
pa.plot.append("polygon").attr("points", pinkA.map((d) => [xa(d[0]), ya(d[1])].join(",")).join(" "))
  .attr("fill", "#f8dde1");
[lowA, blueA, midA, belowA].forEach((set) => drawDots(pa, set, 1.35, (d) => color(d[2]), 0.95));
drawDots(pa, bandA, 1.45, (d) => color(d[2]), 1);
const xenA = [[4, yDomain[1]], [20, yDomain[1]]].concat(xenonLineA.slice().reverse());
pa.plot.append("polygon").attr("points", xenA.map((d) => [xa(d[0]), ya(d[1])].join(",")).join(" "))
  .attr("fill", "#c9c9c9").attr("fill-opacity", 0.5);
pa.g.append("text").attr("transform", `translate(${xa(8.8)},${ya(6.9e-11)}) rotate(-11)`)
  .attr("text-anchor", "middle").attr("dy", "0.35em").attr("font-size", 13).attr("fill", "#222").text("XENON1T");
drawLegend(pa, ["#fffbe0", "#f2c9cc", "#cfcfdd"], [257, 285, 313], 16, 20);
drawColorbar(pa, "a");
drawAxes(pa,
  [["m", "i"], ["H", "i sub"], ["=200 GeV, "], ["m", "i"], ["s", "i sub"], ["=3 TeV, "], ["m", "i"], ["X", "i sub"],
   ["=2 TeV, "], ["g", "i"], ["X", "i sub"], ["=\u03bb"], ["HS", "sub"], ["=3.16\u221710"], ["\u221212", "sup"]],
  [["\u03bb"], ["\u03d5S", "sub"]]);

// ================= panel (b) =================
const pb = makePanel("b", 653);
const xb = pb.x, yb = pb.y;
pb.plot.append("rect").attr("x", xb(4)).attr("width", W)
  .attr("y", yb(higgsUpB[1])).attr("height", yb(higgsUpB[0]) - yb(higgsUpB[1])).attr("fill", "#efeedf");
pb.plot.append("rect").attr("x", xb(4)).attr("width", W)
  .attr("y", yb(higgsLowB[1])).attr("height", yb(higgsLowB[0]) - yb(higgsLowB[1])).attr("fill", "#efeedf");
const pinkGrad = defs.append("linearGradient").attr("id", "pinkB").attr("x1", 0).attr("x2", 0).attr("y1", 0).attr("y2", 1);
[[0, "#ddd5f6"], [0.25, "#e9d8f1"], [0.5, "#f5dbe8"], [0.82, "#f6e2e4"], [1, "#efeedf"]]
  .forEach(([o, c]) => pinkGrad.append("stop").attr("offset", o).attr("stop-color", c));
pb.plot.append("rect").attr("x", xb(4)).attr("width", W)
  .attr("y", yb(yDomain[1])).attr("height", yb(pinkTopB) - yb(yDomain[1])).attr("fill", "url(#pinkB)");
pb.plot.append("polygon").attr("points", xenonB.map((d) => [xb(d[0]), yb(d[1])].join(",")).join(" "))
  .attr("fill", "#dadad4");
[lowB, yellowB, midB].forEach((set) => drawDots(pb, set, 1.35, () => color(rconB), 0.7));
[bandB, bandB2].forEach((set) => drawDots(pb, set, 1.4, () => color(rconB), 0.85));
pb.g.append("text").attr("transform", `translate(${xb(5.3)},${yb(1.1e-11)}) rotate(-9)`)
  .attr("text-anchor", "middle").attr("dy", "0.35em").attr("font-size", 13).attr("fill", "#222").text("XENON1T");
pb.g.append("text").attr("transform", `translate(${xb(12.4)},${yb(5.6e-11)}) rotate(-20)`)
  .attr("text-anchor", "middle").attr("dy", "0.35em").attr("font-size", 13).attr("fill", "#222").text("higgs mass");
pb.g.append("text").attr("transform", `translate(${xb(11.0)},${yb(1.1e-12)}) rotate(-20)`)
  .attr("text-anchor", "middle").attr("dy", "0.35em").attr("font-size", 13).attr("fill", "#222").text("higgs mass");
drawLegend(pb, ["#fffbd8", "#f3c8cc", "#b9b5e0"], [268, 290, 313], 14, 19);
drawColorbar(pb, "b");
drawAxes(pb,
  [["m", "i"], ["H", "i sub"], ["=200 GeV, "], ["m", "i"], ["s", "i sub"], ["=3 TeV, "], ["m", "i"], ["X", "i sub"],
   ["=2 TeV, "], ["g", "i"], ["X", "i sub"], ["=3.16\u221710"], ["\u221212", "sup"], [", \u03bb"], ["\u03d5S", "i sub"],
   ["=10"], ["\u221211", "sup"]],
  [["\u03bb"], ["HS", "sub"]]);

// panel captions
const caption = svg.append("g").attr("font-family", "'Open Sans', sans-serif").attr("font-size", 20).attr("fill", "#222")
  .attr("text-anchor", "middle");
caption.append("text").attr("x", 286).attr("y", 396).text("(a)");
caption.append("text").attr("x", 870).attr("y", 396).text("(b)");
</script>
</body>
</html>
